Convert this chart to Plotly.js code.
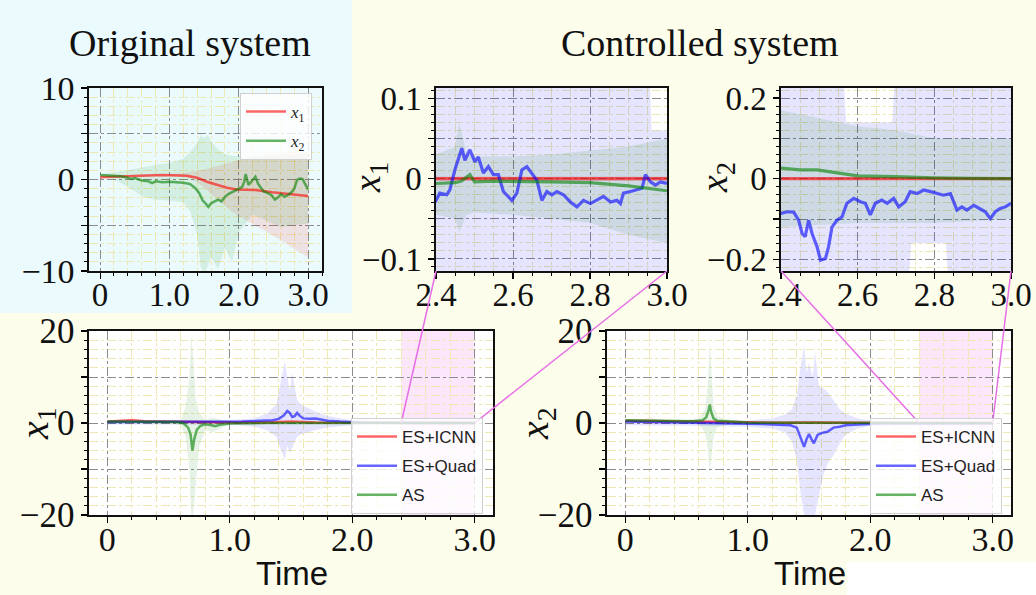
<!DOCTYPE html>
<html><head><meta charset="utf-8">
<script src="https://cdn.plot.ly/plotly-3.0.1.min.js"></script>
<style>html,body{margin:0;padding:0;background:#fdfdeb;}#chart{width:1036px;height:595px;}</style>
</head><body><div id="chart"></div>
<script>
// ---------------- DATA ----------------
// Original system (uncontrolled)
const origT1 = [0, 0.3, 0.6, 0.9, 1.25, 1.4, 1.54, 1.68, 1.83, 1.97, 2.24, 2.48, 2.7, 3.0];
const origX1 = [0.25, 0.35, 0.45, 0.5, 0.42, 0.2, -0.24, -0.6, -0.9, -1.08, -1.15, -1.4, -1.6, -1.8];
const origT2 = [0, 0.1, 0.2, 0.3, 0.4, 0.45, 0.5, 0.6, 0.7, 0.75, 0.8, 0.9, 1.0, 1.1, 1.2, 1.3, 1.38, 1.43, 1.48, 1.52, 1.56, 1.6, 1.65, 1.7, 1.75, 1.8, 1.85, 1.9, 1.95, 2.0, 2.05, 2.08, 2.1, 2.14, 2.18, 2.24, 2.28, 2.32, 2.36, 2.42, 2.47, 2.52, 2.56, 2.61, 2.66, 2.71, 2.76, 2.8, 2.84, 2.88, 2.92, 2.95, 3.0];
const origX2 = [0.5, 0.45, 0.4, 0.35, 0.2, 0.05, 0.15, -0.1, -0.2, -0.4, -0.2, -0.3, -0.25, -0.3, -0.35, -0.5, -1.0, -1.5, -2.3, -2.6, -3.0, -2.6, -2.4, -2.2, -2.4, -1.9, -1.6, -1.4, -1.2, -1.0, -0.8, -0.2, 0.6, -0.6, -0.2, 0.3, -0.5, -0.9, -1.3, -1.5, -1.7, -2.2, -2.0, -1.6, -1.9, -1.7, -1.4, -1.0, -0.05, 0.1, 0.05, -0.4, -1.1];
const origBandT  = [0, 0.2, 0.4, 0.6, 0.8, 1.0, 1.2, 1.3, 1.4, 1.45, 1.5, 1.55, 1.6, 1.7, 1.8, 1.9, 2.0, 2.2, 2.4, 2.6, 2.8, 3.0];
const origX1Up   = [0.35, 0.4, 0.5, 0.6, 0.6, 0.6, 0.7, 0.8, 0.9, 1.0, 1.1, 1.2, 1.3, 1.5, 1.7, 1.9, 2.1, 2.4, 2.7, 2.9, 3.0, 3.0];
const origX1Lo   = [0.15, 0.3, 0.4, 0.4, 0.4, 0.4, 0.3, 0.1, -0.3, -0.6, -0.9, -1.2, -1.6, -2.3, -2.9, -3.5, -4.0, -4.9, -5.7, -6.6, -7.6, -8.5];
const origX2Up   = [0.6, 0.8, 1.0, 1.3, 1.6, 1.8, 2.3, 3.0, 4.0, 4.9, 4.5, 4.9, 4.2, 3.3, 2.8, 2.6, 2.5, 2.5, 2.6, 2.6, 2.7, 2.8];
const origX2Lo   = [0.4, 0.0, -0.8, -1.8, -2.2, -2.3, -2.5, -3.5, -6.0, -9.5, -10.5, -9.5, -8.5, -9.8, -7.5, -9.0, -5.8, -3.8, -4.5, -5.2, -5.0, -4.8];

// Controlled system: ES+ICNN
const icnnT  = [0, 0.1, 0.2, 0.3, 0.5, 0.8, 1.0, 1.3, 1.5, 1.7, 2.0, 2.2, 2.4, 2.6, 2.8, 3.0];
const icnnX1 = [0.3, 0.4, 0.6, 0.4, 0.3, 0.2, 0.1, 0.1, 0.3, 0.1, 0.02, 0.01, 0.0, 0.0, 0.0, 0.0];
const icnnX2 = [0.5, 0.5, 0.45, 0.4, 0.3, 0.2, 0.1, 0.05, 0.1, 0.05, 0.01, 0.005, 0.0, 0.0, 0.0, 0.0];
const icnnBandT = [0, 0.15, 0.2, 0.25, 0.5, 1.0, 1.5, 2.0, 2.4, 3.0];
const icnnBandUp = [0.5, 0.8, 1.2, 0.8, 0.5, 0.3, 0.5, 0.1, 0.003, 0.003];
const icnnBandLo = [0.1, 0.0, -0.2, 0.0, 0.1, 0.0, -0.2, -0.05, -0.003, -0.003];

// Controlled system: ES+Quad
const quadT1 = [0, 0.3, 0.6, 0.9, 1.1, 1.25, 1.35, 1.4, 1.44, 1.47, 1.49, 1.51, 1.53, 1.55, 1.57, 1.6, 1.65, 1.7, 1.75, 1.8, 1.9, 2.0, 2.1, 2.2, 2.3,
  2.400, 2.410, 2.428, 2.436, 2.449, 2.467, 2.475, 2.488, 2.501, 2.510, 2.523, 2.536, 2.549, 2.562, 2.575, 2.597, 2.610, 2.623, 2.636, 2.649, 2.662, 2.675, 2.688, 2.701, 2.714, 2.731, 2.749, 2.766, 2.783, 2.801, 2.818, 2.835, 2.853, 2.870, 2.879, 2.887, 2.905, 2.922, 2.935, 2.944, 2.957, 2.970, 2.983, 3.000];
const quadX1 = [0.2, 0.2, 0.3, 0.2, 0.3, 0.5, 0.6, 0.9, 1.6, 2.6, 2.2, 1.3, 1.5, 2.2, 1.6, 1.0, 0.9, 1.0, 0.7, 0.5, 0.3, 0.15, 0.08, 0.05, 0.02,
  -0.027, -0.018, -0.020, -0.014, 0.011, 0.038, 0.023, 0.036, 0.021, 0.027, 0.007, 0.015, 0.005, 0.005, -0.016, -0.027, -0.018, 0.011, 0.015, 0.007, -0.002, -0.027, -0.016, -0.020, -0.016, -0.020, -0.029, -0.035, -0.027, -0.031, -0.027, -0.022, -0.029, -0.027, -0.031, -0.018, -0.016, -0.014, -0.012, 0.005, -0.004, -0.008, -0.004, -0.006];
const quadT2 = [0, 0.3, 0.6, 0.9, 1.1, 1.25, 1.35, 1.4, 1.43, 1.46, 1.48, 1.5, 1.52, 1.54, 1.57, 1.6, 1.65, 1.7, 1.75, 1.8, 1.9, 2.0, 2.1, 2.2, 2.3,
  2.400, 2.416, 2.433, 2.446, 2.455, 2.463, 2.472, 2.481, 2.494, 2.503, 2.516, 2.524, 2.533, 2.546, 2.559, 2.572, 2.590, 2.607, 2.620, 2.633, 2.646, 2.663, 2.677, 2.694, 2.707, 2.724, 2.737, 2.755, 2.772, 2.790, 2.807, 2.824, 2.842, 2.859, 2.872, 2.885, 2.903, 2.920, 2.933, 2.946, 2.959, 2.972, 2.985, 3.000];
const quadX2 = [0.3, 0.2, 0.1, -0.1, -0.2, -0.4, -0.5, -1.0, -3.0, -5.2, -3.5, -2.4, -3.5, -4.4, -2.6, -2.2, -1.9, -1.0, -0.8, -0.5, -0.3, -0.15, -0.12, -0.1, -0.09,
  -0.086, -0.082, -0.083, -0.103, -0.136, -0.144, -0.103, -0.136, -0.169, -0.202, -0.198, -0.169, -0.120, -0.103, -0.095, -0.061, -0.049, -0.057, -0.061, -0.090, -0.061, -0.053, -0.061, -0.049, -0.070, -0.057, -0.032, -0.037, -0.028, -0.032, -0.037, -0.041, -0.037, -0.078, -0.070, -0.078, -0.066, -0.074, -0.082, -0.099, -0.082, -0.074, -0.070, -0.061];
const quadBand1T  = [0, 0.5, 1.0, 1.2, 1.3, 1.38, 1.42, 1.45, 1.47, 1.49, 1.51, 1.53, 1.55, 1.58, 1.62, 1.7, 1.8, 1.9, 2.0, 2.2, 2.4, 2.95, 2.96, 3.0];
const quadBand1Up = [0.5, 0.6, 0.7, 1.0, 2.0, 4.0, 9.0, 13.5, 10.0, 7.0, 11.0, 8.0, 5.0, 4.0, 3.5, 2.5, 1.5, 1.0, 0.6, 0.4, 0.2, 0.2, 0.06, 0.06];
const quadBand1Lo = [-0.3, -0.3, -0.4, -0.8, -1.5, -3.0, -6.0, -8.0, -5.0, -6.5, -5.5, -4.0, -3.0, -2.5, -2.2, -1.5, -1.0, -0.7, -0.5, -0.3, -0.2, -0.2, -0.2, -0.2];
const quadBand2T  = [0, 0.5, 1.0, 1.2, 1.3, 1.36, 1.4, 1.43, 1.46, 1.48, 1.5, 1.53, 1.55, 1.58, 1.62, 1.66, 1.7, 1.75, 1.8, 1.9, 2.0, 2.2, 2.4, 2.56, 2.57, 2.69, 2.70, 2.73, 2.74, 2.83, 2.84, 3.0];
const quadBand2Up = [0.5, 0.5, 0.6, 1.0, 1.8, 3.0, 6.0, 12.0, 17.0, 11.0, 13.0, 10.0, 15.5, 8.0, 7.5, 6.5, 5.0, 3.0, 2.0, 1.0, 0.6, 0.4, 0.3, 0.3, 0.14, 0.14, 0.3, 0.3, 0.3, 0.3, 0.3, 0.3];
const quadBand2Lo = [-0.5, -0.6, -0.8, -1.2, -2.0, -4.0, -8.0, -15.0, -20.0, -20.0, -20.0, -20.0, -20.0, -16.0, -11.0, -8.5, -7.0, -4.5, -2.5, -1.2, -0.6, -0.4, -0.3, -0.3, -0.3, -0.3, -0.3, -0.3, -0.16, -0.16, -0.3, -0.3];

// Controlled system: AS
const asT1 = [0, 0.3, 0.55, 0.62, 0.66, 0.68, 0.695, 0.71, 0.73, 0.76, 0.8, 0.85, 0.88, 0.92, 0.96, 1.0, 1.3, 1.6, 2.0, 2.2,
  2.4, 2.45, 2.466, 2.488, 2.5, 2.55, 2.6, 2.7, 2.8, 2.9, 3.0];
const asX1 = [0.3, 0.3, 0.2, 0.0, -1.0, -2.5, -6.0, -3.5, -1.5, -0.6, -0.3, -0.5, -0.7, -0.4, -0.3, -0.1, 0.0, 0.0, -0.005, -0.005,
  -0.006, -0.005, -0.003, 0.005, -0.004, -0.003, -0.003, -0.004, -0.005, -0.009, -0.015];
const asT2 = [0, 0.3, 0.55, 0.63, 0.66, 0.68, 0.69, 0.70, 0.72, 0.75, 0.8, 0.9, 1.0, 1.3, 1.6, 2.0, 2.2,
  2.4, 2.45, 2.494, 2.52, 2.55, 2.6, 2.7, 2.8, 2.9, 3.0];
const asX2 = [0.6, 0.5, 0.4, 0.6, 1.2, 2.8, 4.0, 2.5, 1.0, 0.5, 0.4, 0.3, 0.1, 0.05, 0.04, 0.03, 0.027,
  0.026, 0.022, 0.022, 0.018, 0.013, 0.007, 0.005, 0.002, 0.001, 0.0];
const asBand1T  = [0, 0.5, 0.6, 0.64, 0.67, 0.685, 0.7, 0.72, 0.75, 0.8, 0.86, 0.9, 0.95, 1.0, 1.5, 2.0, 2.4, 2.45, 2.46, 2.48, 2.5, 2.6, 2.7, 2.8, 2.9, 3.0];
const asBand1Up = [0.5, 0.4, 0.8, 3.5, 10.0, 19.0, 15.0, 6.0, 2.0, 0.8, 1.2, 1.0, 0.6, 0.3, 0.1, 0.05, 0.03, 0.04, 0.07, 0.03, 0.028, 0.028, 0.03, 0.035, 0.04, 0.05];
const asBand1Lo = [0.1, 0.0, -0.5, -3.0, -10.0, -20.0, -20.0, -14.0, -5.0, -1.5, -2.0, -1.5, -0.8, -0.3, -0.1, -0.05, -0.045, -0.05, -0.066, -0.045, -0.042, -0.045, -0.05, -0.055, -0.07, -0.08];
const asBand2T  = [0, 0.5, 0.6, 0.65, 0.675, 0.69, 0.705, 0.72, 0.75, 0.8, 0.9, 1.0, 1.5, 2.0, 2.4, 2.5, 2.6, 2.7, 2.8, 2.9, 3.0];
const asBand2Up = [0.8, 0.7, 1.0, 3.0, 9.0, 18.0, 10.0, 4.0, 1.5, 1.0, 0.6, 0.3, 0.2, 0.17, 0.17, 0.15, 0.13, 0.12, 0.1, 0.1, 0.1];
const asBand2Lo = [0.2, 0.1, -0.3, -2.0, -6.0, -11.0, -8.0, -3.0, -1.0, -0.5, -0.3, -0.2, -0.15, -0.12, -0.12, -0.115, -0.11, -0.11, -0.11, -0.105, -0.1];

// Tick labels
const tFullVals = [0, 1, 2, 3];
const tFullText = ['0', '1.0', '2.0', '3.0'];
const tZoomVals = [2.4, 2.6, 2.8, 3.0];
const tZoomText = ['2.4', '2.6', '2.8', '3.0'];
const zoomWindow = [2.4, 3.0];

// ---------------- STYLE ----------------
const W = 1036, H = 595;
const RED = 'rgba(255,0,0,0.6)', BLUE = 'rgba(0,0,255,0.6)', GREEN = 'rgba(0,128,0,0.6)';
const REDF = 'rgba(255,0,0,0.1)', BLUEF = 'rgba(0,0,255,0.1)', GREENF = 'rgba(0,128,0,0.1)';
const SERIF = 'Liberation Serif, serif';
const SANS = 'Liberation Sans, Arial, sans-serif';

function dx(a, b) { return [a / W, b / W]; }
function dy(top, bot) { return [1 - bot / H, 1 - top / H]; }

function mkAxis(o) {
  return {
    domain: o.domain, range: o.range, anchor: o.anchor,
    tickmode: 'array', tickvals: o.vals, ticktext: o.text,
    ticks: 'outside', ticklen: 6, tickwidth: 1.2, tickcolor: '#000',
    ticklabelstandoff: o.standoff,
    showline: true, mirror: true, linecolor: '#111', linewidth: 1.6,
    showgrid: true, gridcolor: '#8c8c8c', griddash: 'dashdot', gridwidth: 1,
    zeroline: false, fixedrange: true,
    minor: { dtick: o.minor, tick0: 0, ticks: 'outside', ticklen: 3, tickwidth: 1, tickcolor: '#000',
             showgrid: true, gridcolor: '#eee8b4', gridwidth: 1 },
    tickfont: { family: SERIF, size: o.fs, color: '#111' }
  };
}

const XS = -12, YS = 0;
const axes = {
  xaxis:  mkAxis({domain: dx(89, 322),  range: [-0.16, 3.2], anchor: 'y',  vals: tFullVals, text: tFullText, minor: 0.2, fs: 33, standoff: XS}),
  yaxis:  mkAxis({domain: dy(88, 271),  range: [-10, 10],    anchor: 'x',  vals: [-10,-5,0,5,10], text: ['−10','','0','','10'], minor: 1, fs: 34, standoff: YS}),
  xaxis2: mkAxis({domain: dx(436, 667), range: zoomWindow,   anchor: 'y2', vals: tZoomVals, text: tZoomText, minor: 0.05, fs: 33, standoff: XS}),
  yaxis2: mkAxis({domain: dy(88, 271),  range: [-0.115, 0.113], anchor: 'x2', vals: [-0.1,-0.05,0,0.05,0.1], text: ['−0.1','','0','','0.1'], minor: 0.01, fs: 33, standoff: YS}),
  xaxis3: mkAxis({domain: dx(781, 1011), range: zoomWindow,  anchor: 'y3', vals: tZoomVals, text: tZoomText, minor: 0.05, fs: 33, standoff: XS}),
  yaxis3: mkAxis({domain: dy(88, 271),  range: [-0.229, 0.225], anchor: 'x3', vals: [-0.2,-0.1,0,0.1,0.2], text: ['−0.2','','0','','0.2'], minor: 0.02, fs: 33, standoff: YS}),
  xaxis4: mkAxis({domain: dx(89, 493),  range: [-0.15, 3.15], anchor: 'y4', vals: tFullVals, text: tFullText, minor: 0.2, fs: 34, standoff: XS}),
  yaxis4: mkAxis({domain: dy(331, 515), range: [-20, 20],    anchor: 'x4', vals: [-20,-10,0,10,20], text: ['−20','','0','','20'], minor: 2, fs: 35, standoff: YS}),
  xaxis5: mkAxis({domain: dx(607, 1011), range: [-0.15, 3.15], anchor: 'y5', vals: tFullVals, text: tFullText, minor: 0.2, fs: 34, standoff: XS}),
  yaxis5: mkAxis({domain: dy(331, 515), range: [-20, 20],    anchor: 'x5', vals: [-20,-10,0,10,20], text: ['−20','','0','','20'], minor: 2, fs: 35, standoff: YS})
};

function band(t, up, lo, color, n) {
  return { x: t.concat(t.slice().reverse()), y: up.concat(lo.slice().reverse()),
    fill: 'toself', fillcolor: color, line: {width: 0}, mode: 'lines', hoverinfo: 'skip',
    showlegend: false, xaxis: 'x' + n, yaxis: 'y' + n };
}
function line(t, v, color, n, w, name, legend) {
  const tr = { x: t, y: v, mode: 'lines', line: {color: color, width: w}, xaxis: 'x' + n, yaxis: 'y' + n,
    hoverinfo: 'skip', showlegend: !!legend };
  if (legend) { tr.name = name; tr.legend = legend; tr.legendgroup = legend + name; }
  return tr;
}

const traces = [];
// Original system (subplot 1)
traces.push(band(origBandT, origX1Up, origX1Lo, REDF, ''));
traces.push(band(origBandT, origX2Up, origX2Lo, GREENF, ''));
traces.push(line(origT1, origX1, RED, '', 2.5, '<i>x</i><sub>1</sub>', 'legend'));
traces.push(line(origT2, origX2, GREEN, '', 2.5, '<i>x</i><sub>2</sub>', 'legend'));

// Controlled x1: subplots 2 (zoom) and 4 (full); x2: subplots 3 (zoom) and 5 (full)
[['2', 3.2, null], ['4', 2.5, 'legend2']].forEach(([n, w, lg]) => {
  traces.push(band(icnnBandT, icnnBandUp, icnnBandLo, REDF, n));
  traces.push(band(quadBand1T, quadBand1Up, quadBand1Lo, BLUEF, n));
  traces.push(band(asBand1T, asBand1Up, asBand1Lo, GREENF, n));
  traces.push(line(icnnT, icnnX1, RED, n, w, 'ES+ICNN', lg));
  traces.push(line(quadT1, quadX1, BLUE, n, w, 'ES+Quad', lg));
  traces.push(line(asT1, asX1, GREEN, n, w, 'AS', lg));
});
[['3', 3.2, null], ['5', 2.5, 'legend3']].forEach(([n, w, lg]) => {
  traces.push(band(icnnBandT, icnnBandUp, icnnBandLo, REDF, n));
  traces.push(band(quadBand2T, quadBand2Up, quadBand2Lo, BLUEF, n));
  traces.push(band(asBand2T, asBand2Up, asBand2Lo, GREENF, n));
  traces.push(line(icnnT, icnnX2, RED, n, w, 'ES+ICNN', lg));
  traces.push(line(quadT2, quadX2, BLUE, n, w, 'ES+Quad', lg));
  traces.push(line(asT2, asX2, GREEN, n, w, 'AS', lg));
});

// map data coords of a subplot to paper coords
function toPaper(xa, ya, xv, yv) {
  const X = axes[xa], Y = axes[ya];
  return [X.domain[0] + (xv - X.range[0]) / (X.range[1] - X.range[0]) * (X.domain[1] - X.domain[0]),
          Y.domain[0] + (yv - Y.range[0]) / (Y.range[1] - Y.range[0]) * (Y.domain[1] - Y.domain[0])];
}
function connector(a, b) {
  return {type: 'line', xref: 'paper', yref: 'paper', x0: a[0], y0: a[1], x1: b[0], y1: b[1],
    line: {color: 'rgb(230,110,230)', width: 1.5}, layer: 'above'};
}

const shapes = [
  {type: 'rect', xref: 'paper', yref: 'paper', x0: 0, x1: 352 / W, y0: 1 - 313 / H, y1: 1, fillcolor: '#ebfbfd', line: {width: 0}, layer: 'below'},
  {type: 'rect', xref: 'paper', yref: 'paper', x0: 847 / W, x1: 1, y0: 0, y1: 1 - 562 / H, fillcolor: '#ffffff', line: {width: 0}, layer: 'below'},
  {type: 'rect', xref: 'x4', yref: 'y4 domain', x0: zoomWindow[0], x1: zoomWindow[1], y0: 0, y1: 1, fillcolor: 'rgba(238,130,238,0.2)', line: {width: 0}, layer: 'below'},
  {type: 'rect', xref: 'x5', yref: 'y5 domain', x0: zoomWindow[0], x1: zoomWindow[1], y0: 0, y1: 1, fillcolor: 'rgba(238,130,238,0.2)', line: {width: 0}, layer: 'below'},
  connector(toPaper('xaxis4', 'yaxis4', zoomWindow[0], 0), toPaper('xaxis2', 'yaxis2', zoomWindow[0], axes.yaxis2.range[0])),
  connector(toPaper('xaxis4', 'yaxis4', zoomWindow[1], 0), toPaper('xaxis2', 'yaxis2', zoomWindow[1], axes.yaxis2.range[0])),
  connector(toPaper('xaxis5', 'yaxis5', zoomWindow[0], 0), toPaper('xaxis3', 'yaxis3', zoomWindow[0], axes.yaxis3.range[0])),
  connector(toPaper('xaxis5', 'yaxis5', zoomWindow[1], 0), toPaper('xaxis3', 'yaxis3', zoomWindow[1], axes.yaxis3.range[0]))
];

function ann(text, x, y, font, angle) {
  return {text: text, xref: 'paper', yref: 'paper', x: x / W, y: 1 - y / H, xanchor: 'center', yanchor: 'middle',
    showarrow: false, font: font, textangle: angle || 0};
}
const annotations = [
  ann('Original system', 190, 43, {family: SERIF, size: 38, color: '#111'}),
  ann('Controlled system', 700, 43, {family: SERIF, size: 38, color: '#111'}),
  ann('<i>x</i><sub>1</sub>', 370, 178, {family: SERIF, size: 38, color: '#111'}, -90),
  ann('<i>x</i><sub>2</sub>', 717, 178, {family: SERIF, size: 38, color: '#111'}, -90),
  ann('<i>x</i><sub>1</sub>', 37, 424, {family: SERIF, size: 40, color: '#111'}, -90),
  ann('<i>x</i><sub>2</sub>', 537, 424, {family: SERIF, size: 40, color: '#111'}, -90),
  ann('Time', 292, 573, {family: SANS, size: 33, color: '#111'}),
  ann('Time', 810, 573, {family: SANS, size: 33, color: '#111'})
];

function legendBox(right, top, font) {
  return {x: right / W, y: 1 - top / H, xanchor: 'right', yanchor: 'top', xref: 'paper', yref: 'paper',
    bgcolor: 'rgba(255,255,255,0.8)', bordercolor: '#d0d0d0', borderwidth: 1,
    font: font, traceorder: 'grouped', tracegroupgap: 4, itemwidth: 40};
}

const layout = Object.assign({
  width: W, height: H, margin: {l: 0, r: 0, t: 0, b: 0},
  paper_bgcolor: '#fdfdeb', plot_bgcolor: '#ffffff',
  showlegend: true,
  legend:  legendBox(312, 93, {family: SERIF, size: 17, color: '#222'}),
  legend2: legendBox(483, 418, {family: SANS, size: 17, color: '#222'}),
  legend3: legendBox(1002, 418, {family: SANS, size: 17, color: '#222'}),
  shapes: shapes, annotations: annotations
}, axes);

Plotly.newPlot('chart', traces, layout, {displayModeBar: false, staticPlot: true});
</script>
</body></html>
